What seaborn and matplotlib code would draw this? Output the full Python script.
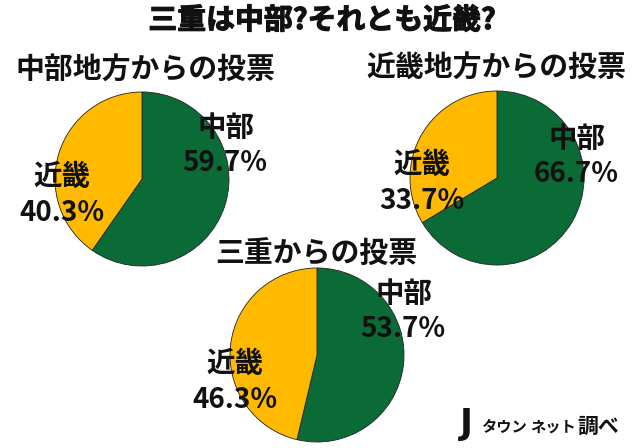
import matplotlib
matplotlib.use("Agg")
import matplotlib.pyplot as plt
import matplotlib.patheffects as pe
import seaborn as sns

sns.set_theme(style="white")
plt.rcParams["font.family"] = ["Noto Sans CJK JP", "DejaVu Sans"]

categories = ["中部", "近畿"]
chart_title = "三重は中部?それとも近畿?"
pie_titles = ["中部地方からの投票", "近畿地方からの投票", "三重からの投票"]
chubu_values = [59.7, 66.7, 53.7]
kinki_values = [40.3, 33.7, 46.3]
credit_parts = ["タウン", "ネット", "調べ"]

colors = ["#0B6B37", "#FFBA00"]
W, H = 640, 448

# pixel layout: pie centre, title centre, chubu label centre, kinki label centre
layout = [
    {"c": (142, 179), "t": (145, 70), "a": (226, 128), "b": (62, 177)},
    {"c": (497, 178), "t": (496, 68), "a": (577, 139), "b": (422, 165)},
    {"c": (317, 355), "t": (316, 254), "a": (404, 294), "b": (235, 364)},
]
RADIUS = 87


def put_text(x, y, s, size, weight="bold", **kw):
    return fig.text(x / W, 1 - y / H, s, fontsize=size, fontweight=weight,
                    ha="center", va="center", color="#111111", zorder=10, **kw)


fig = plt.figure(figsize=(W / 100, H / 100), dpi=100, facecolor="white")

for i, pos in enumerate(layout):
    cx, cy = pos["c"]
    ax = fig.add_axes([(cx - RADIUS) / W, 1 - (cy + RADIUS) / H, 2 * RADIUS / W, 2 * RADIUS / H])
    ax.pie([chubu_values[i], kinki_values[i]], colors=colors, startangle=90, counterclock=False,
           radius=1, wedgeprops={"edgecolor": "#222222", "linewidth": 0.6})
    ax.set_xlim(-1, 1)
    ax.set_ylim(-1, 1)
    ax.patch.set_alpha(0)
    for w in ax.patches:
        w.set_clip_on(False)

    put_text(pos["t"][0], pos["t"][1], pie_titles[i], 20.8)
    put_text(pos["a"][0], pos["a"][1], categories[0], 20.5)
    put_text(pos["a"][0] - 1, pos["a"][1] + 35, f"{chubu_values[i]}%", 20)
    put_text(pos["b"][0], pos["b"][1], categories[1], 20.5)
    put_text(pos["b"][0], pos["b"][1] + 36, f"{kinki_values[i]}%", 20)

title = put_text(322, 20, chart_title, 20.8)
title.set_path_effects([pe.withStroke(linewidth=0.8, foreground="#111111")])

# logo text
put_text(466, 424, "J", 25, family=["DejaVu Sans"])
put_text(504, 427, credit_parts[0], 11)
put_text(553, 427, credit_parts[1], 11)
put_text(598, 426, credit_parts[2], 15)

fig.savefig("out.png", dpi=100)
